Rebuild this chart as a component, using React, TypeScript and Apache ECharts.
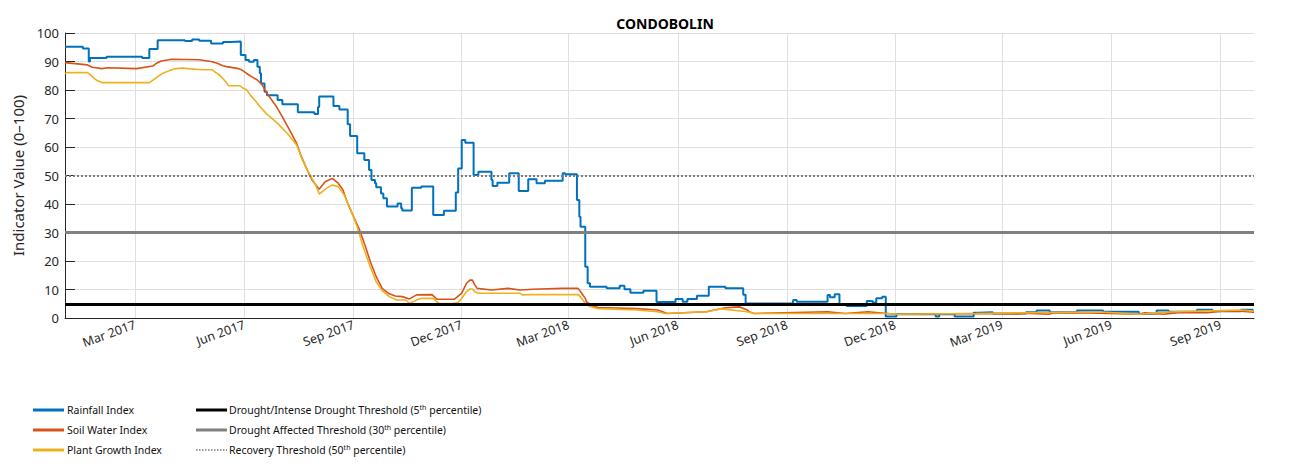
import { useEffect, useRef } from 'react';
import * as echarts from 'echarts';

// ---- Chart text ----
const TITLE = 'CONDOBOLIN';
const Y_AXIS_NAME = 'Indicator Value (0–100)';

// ---- Axis ranges and ticks ----
const X_MIN = '2017-01-01';
const X_MAX = '2019-09-29';
const xTickDates = [
  '2017-03-01', '2017-06-01', '2017-09-01', '2017-12-01',
  '2018-03-01', '2018-06-01', '2018-09-01', '2018-12-01',
  '2019-03-01', '2019-06-01', '2019-09-01',
];
const monthNames = ['Jan', 'Feb', 'Mar', 'Apr', 'May', 'Jun', 'Jul', 'Aug', 'Sep', 'Oct', 'Nov', 'Dec'];
const Y_MIN = 0;
const Y_MAX = 100;
const Y_STEP = 10;

// ---- Threshold levels (percentiles) ----
const INTENSE_DROUGHT_LEVEL = 5;
const DROUGHT_AFFECTED_LEVEL = 30;
const RECOVERY_LEVEL = 50;

// ---- Series: [date the value starts, index value] ----
const rainfallIndex: [string, number][] = [
  ['2017-01-01', 95.2], ['2017-01-16', 94.6], ['2017-01-21', 90.0], ['2017-01-22', 91.2],
  ['2017-02-05', 91.7], ['2017-03-07', 91.2], ['2017-03-13', 94.4], ['2017-03-20', 97.5],
  ['2017-04-12', 97.2], ['2017-04-18', 97.7], ['2017-04-24', 97.3], ['2017-05-04', 96.3],
  ['2017-05-14', 96.8], ['2017-05-20', 97.0], ['2017-05-29', 92.3], ['2017-06-02', 90.5],
  ['2017-06-05', 89.9], ['2017-06-09', 90.5], ['2017-06-12', 88.2], ['2017-06-14', 85.9],
  ['2017-06-15', 82.3], ['2017-06-18', 79.4], ['2017-06-20', 78.2], ['2017-06-29', 76.5],
  ['2017-07-03', 75.0], ['2017-07-16', 72.2], ['2017-07-30', 71.6], ['2017-08-02', 74.0],
  ['2017-08-03', 77.7], ['2017-08-15', 74.4], ['2017-08-20', 73.2], ['2017-08-27', 68.0],
  ['2017-08-29', 63.9], ['2017-09-04', 57.8], ['2017-09-10', 55.4], ['2017-09-14', 51.9],
  ['2017-09-16', 48.4], ['2017-09-19', 47.3], ['2017-09-20', 45.9], ['2017-09-24', 43.7],
  ['2017-09-26', 42.0], ['2017-09-29', 39.1], ['2017-10-08', 40.2], ['2017-10-11', 38.5],
  ['2017-10-12', 37.7], ['2017-10-20', 45.7], ['2017-10-28', 46.1], ['2017-11-07', 36.1],
  ['2017-11-16', 37.6], ['2017-11-26', 44.0], ['2017-11-28', 52.5], ['2017-12-01', 62.5],
  ['2017-12-04', 61.5], ['2017-12-11', 50.2], ['2017-12-15', 51.3], ['2017-12-26', 48.4],
  ['2017-12-27', 46.3], ['2017-12-31', 47.5], ['2018-01-10', 50.8], ['2018-01-18', 44.6],
  ['2018-01-26', 48.7], ['2018-02-02', 47.3], ['2018-02-09', 48.2], ['2018-02-24', 50.8],
  ['2018-02-26', 50.4], ['2018-03-08', 41.4], ['2018-03-10', 35.5], ['2018-03-11', 32.0],
  ['2018-03-15', 18.0], ['2018-03-17', 12.2], ['2018-03-19', 11.0], ['2018-04-02', 10.4],
  ['2018-04-13', 11.3], ['2018-04-17', 10.1], ['2018-04-22', 8.9], ['2018-05-03', 9.6],
  ['2018-05-14', 5.6], ['2018-05-30', 6.7], ['2018-06-05', 5.7], ['2018-06-09', 6.7],
  ['2018-06-17', 7.8], ['2018-06-27', 11.0], ['2018-07-11', 10.4], ['2018-07-26', 8.2],
  ['2018-07-28', 5.1], ['2018-09-06', 6.3], ['2018-09-09', 5.7], ['2018-10-05', 8.1],
  ['2018-10-07', 7.3], ['2018-10-11', 8.3], ['2018-10-15', 4.6], ['2018-10-21', 4.2],
  ['2018-11-07', 6.0], ['2018-11-12', 5.4], ['2018-11-15', 6.9], ['2018-11-20', 7.5],
  ['2018-11-23', 0.5], ['2018-12-02', 1.3], ['2019-01-04', 0.5], ['2019-01-07', 1.3],
  ['2019-01-20', 0.5], ['2019-02-05', 1.8], ['2019-02-09', 2.0], ['2019-02-21', 1.6],
  ['2019-03-21', 2.0], ['2019-03-30', 2.6], ['2019-04-10', 2.0], ['2019-05-03', 2.6],
  ['2019-05-25', 2.2], ['2019-06-24', 1.4], ['2019-06-29', 1.6], ['2019-07-09', 2.6],
  ['2019-07-19', 2.2], ['2019-08-12', 2.9], ['2019-08-25', 2.4], ['2019-09-18', 2.9],
  ['2019-09-28', 2.2], ['2019-09-29', 2.2],
];

const soilWaterIndex: [string, number][] = [
  ['2017-01-01', 89.6], ['2017-01-20', 88.8], ['2017-01-24', 88.0], ['2017-02-01', 87.5],
  ['2017-02-06', 87.8], ['2017-03-02', 87.5], ['2017-03-16', 88.4], ['2017-03-19', 89.4],
  ['2017-03-23', 90.2], ['2017-04-01', 90.8], ['2017-04-24', 90.6], ['2017-05-05', 89.9],
  ['2017-05-09', 89.4], ['2017-05-14', 88.5], ['2017-05-17', 88.2], ['2017-05-26', 87.6],
  ['2017-05-30', 87.0], ['2017-06-03', 85.8], ['2017-06-07', 84.7], ['2017-06-12', 83.5],
  ['2017-06-16', 81.8], ['2017-06-19', 79.5], ['2017-06-24', 76.5], ['2017-06-28', 74.2],
  ['2017-07-03', 70.6], ['2017-07-09', 66.0], ['2017-07-15', 61.3], ['2017-07-19', 56.6],
  ['2017-07-24', 51.9], ['2017-07-28', 48.4], ['2017-08-03', 45.2], ['2017-08-08', 47.8],
  ['2017-08-14', 49.0], ['2017-08-19', 47.3], ['2017-08-23', 44.9], ['2017-08-27', 40.2],
  ['2017-09-01', 35.5], ['2017-09-06', 30.9], ['2017-09-11', 25.0], ['2017-09-15', 19.8],
  ['2017-09-20', 14.5], ['2017-09-25', 10.4], ['2017-09-30', 8.7], ['2017-10-06', 7.7],
  ['2017-10-12', 7.5], ['2017-10-18', 6.7], ['2017-10-24', 8.1], ['2017-11-06', 8.2],
  ['2017-11-10', 6.6], ['2017-11-25', 6.6], ['2017-12-01', 8.7], ['2017-12-05', 12.2],
  ['2017-12-08', 13.3], ['2017-12-10', 13.3], ['2017-12-12', 11.6], ['2017-12-14', 10.4],
  ['2017-12-26', 9.8], ['2018-01-09', 10.4], ['2018-01-19', 9.8], ['2018-01-30', 10.1],
  ['2018-02-24', 10.4], ['2018-03-09', 10.4], ['2018-03-12', 8.7], ['2018-03-15', 6.9],
  ['2018-03-16', 5.7], ['2018-03-21', 4.2], ['2018-03-26', 3.7], ['2018-04-27', 3.3],
  ['2018-05-15', 2.8], ['2018-05-19', 2.2], ['2018-05-23', 1.6], ['2018-06-25', 2.2],
  ['2018-07-02', 2.8], ['2018-07-11', 3.6], ['2018-07-23', 3.9], ['2018-07-29', 2.9],
  ['2018-07-31', 2.2], ['2018-08-04', 1.6], ['2018-10-05', 2.2], ['2018-10-20', 1.6],
  ['2018-11-08', 2.2], ['2018-11-24', 1.6], ['2018-12-02', 1.3], ['2019-02-05', 1.6],
  ['2019-03-14', 1.4], ['2019-03-20', 1.7], ['2019-04-09', 1.3], ['2019-04-13', 1.8],
  ['2019-05-06', 1.9], ['2019-06-23', 1.3], ['2019-06-29', 1.8], ['2019-07-15', 1.3],
  ['2019-07-27', 1.9], ['2019-08-21', 1.9], ['2019-09-01', 2.4], ['2019-09-18', 2.4],
  ['2019-09-29', 2.0],
];

const plantGrowthIndex: [string, number][] = [
  ['2017-01-01', 85.8], ['2017-01-03', 86.1], ['2017-01-20', 86.1], ['2017-01-22', 85.5],
  ['2017-01-24', 84.7], ['2017-01-28', 83.3], ['2017-02-01', 82.6], ['2017-03-13', 82.6],
  ['2017-03-17', 83.7], ['2017-03-20', 84.7], ['2017-03-24', 85.8], ['2017-03-30', 86.8],
  ['2017-04-03', 87.4], ['2017-04-10', 87.7], ['2017-04-16', 87.4], ['2017-04-27', 87.1],
  ['2017-05-05', 87.1], ['2017-05-07', 86.4], ['2017-05-11', 85.3], ['2017-05-15', 83.5],
  ['2017-05-19', 81.5], ['2017-05-28', 81.5], ['2017-05-30', 80.9], ['2017-06-03', 80.0],
  ['2017-06-06', 78.2], ['2017-06-11', 75.9], ['2017-06-14', 74.2], ['2017-06-18', 72.4],
  ['2017-06-20', 71.5], ['2017-06-29', 68.3], ['2017-07-07', 64.8], ['2017-07-15', 60.7],
  ['2017-07-20', 55.4], ['2017-07-24', 51.9], ['2017-07-31', 46.7], ['2017-08-03', 43.5],
  ['2017-08-09', 45.5], ['2017-08-14', 46.7], ['2017-08-19', 46.1], ['2017-08-24', 43.2],
  ['2017-08-29', 38.5], ['2017-09-04', 32.0], ['2017-09-09', 25.0], ['2017-09-15', 18.0],
  ['2017-09-20', 12.7], ['2017-09-25', 9.6], ['2017-10-01', 7.5], ['2017-10-07', 6.3],
  ['2017-10-15', 6.3], ['2017-10-18', 5.1], ['2017-10-24', 6.3], ['2017-10-28', 6.9],
  ['2017-11-07', 6.9], ['2017-11-10', 5.7], ['2017-11-12', 5.1], ['2017-11-23', 5.1],
  ['2017-11-28', 5.4], ['2017-12-01', 6.9], ['2017-12-05', 9.2], ['2017-12-08', 10.2],
  ['2017-12-10', 10.2], ['2017-12-12', 9.2], ['2017-12-15', 8.7], ['2018-01-19', 8.7],
  ['2018-01-21', 8.1], ['2018-01-27', 8.2], ['2018-03-09', 8.2], ['2018-03-12', 6.9],
  ['2018-03-15', 5.1], ['2018-03-19', 4.0], ['2018-03-25', 3.3], ['2018-04-27', 2.8],
  ['2018-05-15', 2.2], ['2018-05-21', 1.6], ['2018-06-25', 2.2], ['2018-07-02', 2.8],
  ['2018-07-08', 3.2], ['2018-07-29', 2.2], ['2018-08-05', 1.6], ['2018-11-24', 1.6],
  ['2018-12-02', 1.3], ['2019-02-07', 1.6], ['2019-04-01', 1.9], ['2019-05-23', 2.1],
  ['2019-06-25', 1.3], ['2019-07-12', 1.9], ['2019-07-24', 2.2], ['2019-09-01', 2.6],
  ['2019-09-18', 2.8], ['2019-09-29', 2.4],
];

// ---- Colours ----
const RAIN_COLOR = '#0072BD';
const SOIL_COLOR = '#D95319';
const PLANT_COLOR = '#EDB120';
const INTENSE_COLOR = '#000000';
const AFFECTED_COLOR = '#808080';
const RECOVERY_COLOR = '#7a7a7a';
const GRID_COLOR = '#dfdfdf';
const AXIS_COLOR = '#262626';
const FONT = '"Noto Sans", "DejaVu Sans", sans-serif';

// dates are handled as UTC day timestamps on a numeric axis
const toTime = (d: string) => Date.parse(`${d}T00:00:00Z`);
const toPoints = (rows: [string, number][]) => rows.map(([d, v]) => [toTime(d), v]);

type LegendEntry = { label: string; color: string; width: number; dash?: number[] };

const legendLeft: LegendEntry[] = [
  { label: 'Rainfall Index', color: RAIN_COLOR, width: 3 },
  { label: 'Soil Water Index', color: SOIL_COLOR, width: 3 },
  { label: 'Plant Growth Index', color: PLANT_COLOR, width: 3 },
];
const legendRight: LegendEntry[] = [
  { label: '{n|Drought/Intense Drought Threshold (5}{s|th}{n| percentile)}', color: INTENSE_COLOR, width: 3 },
  { label: '{n|Drought Affected Threshold (30}{s|th}{n| percentile)}', color: AFFECTED_COLOR, width: 3 },
  { label: '{n|Recovery Threshold (50}{s|th}{n| percentile)}', color: RECOVERY_COLOR, width: 1.5, dash: [1.5, 1.5] },
];

function legendGraphics() {
  const rows = [410, 430, 450];
  const items: any[] = [];
  const column = (entries: LegendEntry[], lineX: number, textX: number) => {
    entries.forEach((e, i) => {
      const y = rows[i];
      items.push({
        type: 'line',
        silent: true,
        shape: { x1: lineX, y1: y, x2: lineX + 31, y2: y },
        style: { stroke: e.color, lineWidth: e.width, lineDash: e.dash },
      });
      items.push({
        type: 'text',
        silent: true,
        x: textX,
        y,
        style: {
          text: e.label,
          fill: '#111',
          font: `10.5px ${FONT}`,
          verticalAlign: 'middle',
          align: 'left',
          rich: {
            n: { fontSize: 10.5, fontFamily: FONT, fill: '#111' },
            s: { fontSize: 7, fontFamily: FONT, fill: '#111', padding: [0, 0, 6, 0] },
          },
        },
      });
    });
  };
  column(legendLeft, 33, 67);
  column(legendRight, 196, 229);
  return items;
}

function formatMonth(value: number) {
  const d = new Date(value);
  return `${monthNames[d.getUTCMonth()]} ${d.getUTCFullYear()}`;
}

export default function App() {
  const ref = useRef<HTMLDivElement>(null);

  useEffect(() => {
    if (!ref.current) return;
    const chart = echarts.init(ref.current, undefined, { renderer: 'svg' });
    const tickTimes = xTickDates.map(toTime);

    chart.setOption({
      animation: false,
      backgroundColor: '#ffffff',
      title: {
        text: TITLE,
        left: 660,
        textAlign: 'center',
        top: 11,
        textStyle: { fontFamily: FONT, fontSize: 14, fontWeight: 'bold', color: '#000' },
      },
      grid: { left: 65, right: 39, top: 33, bottom: 156, containLabel: false },
      xAxis: {
        type: 'value',
        min: toTime(X_MIN),
        max: toTime(X_MAX),
        axisLine: { show: true, onZero: false, lineStyle: { color: AXIS_COLOR, width: 1 } },
        axisTick: { show: true, inside: true, length: 10, lineStyle: { color: AXIS_COLOR }, customValues: tickTimes },
        axisLabel: {
          customValues: tickTimes,
          rotate: 20,
          margin: 6,
          color: AXIS_COLOR,
          fontFamily: FONT,
          fontSize: 12.5,
          formatter: (v: number) => formatMonth(v),
        },
        splitLine: { show: false },
        minorSplitLine: { show: false },
      },
      yAxis: {
        type: 'value',
        min: Y_MIN,
        max: Y_MAX,
        interval: Y_STEP,
        name: Y_AXIS_NAME,
        nameLocation: 'middle',
        nameGap: 28,
        nameTextStyle: { fontFamily: FONT, fontSize: 15, color: AXIS_COLOR },
        axisLine: { show: true, lineStyle: { color: AXIS_COLOR, width: 1 } },
        axisTick: { show: true, inside: true, length: 10, lineStyle: { color: AXIS_COLOR } },
        axisLabel: { color: AXIS_COLOR, fontFamily: FONT, fontSize: 13, margin: 6 },
        splitLine: { show: true, lineStyle: { color: GRID_COLOR, width: 1 } },
      },
      series: [
        {
          // vertical grid lines at the month ticks
          name: 'month-grid',
          type: 'line',
          data: [],
          silent: true,
          z: 1,
          markLine: {
            silent: true,
            symbol: 'none',
            z: 1,
            label: { show: false },
            lineStyle: { color: GRID_COLOR, width: 1, type: 'solid' },
            data: tickTimes.map((t) => ({ xAxis: t })),
          },
        },
        {
          name: 'Rainfall Index',
          type: 'line',
          step: 'end',
          data: toPoints(rainfallIndex),
          showSymbol: false,
          z: 3,
          lineStyle: { color: RAIN_COLOR, width: 2 },
          itemStyle: { color: RAIN_COLOR },
        },
        {
          name: 'Soil Water Index',
          type: 'line',
          data: toPoints(soilWaterIndex),
          showSymbol: false,
          z: 4,
          lineStyle: { color: SOIL_COLOR, width: 1.6 },
          itemStyle: { color: SOIL_COLOR },
        },
        {
          name: 'Plant Growth Index',
          type: 'line',
          data: toPoints(plantGrowthIndex),
          showSymbol: false,
          z: 5,
          lineStyle: { color: PLANT_COLOR, width: 1.6 },
          itemStyle: { color: PLANT_COLOR },
        },
        {
          // drought threshold lines
          name: 'thresholds',
          type: 'line',
          data: [],
          silent: true,
          z: 6,
          markLine: {
            silent: true,
            symbol: 'none',
            z: 6,
            label: { show: false },
            data: [
              { yAxis: RECOVERY_LEVEL, lineStyle: { color: RECOVERY_COLOR, width: 2, type: [2, 2] } },
              { yAxis: DROUGHT_AFFECTED_LEVEL, lineStyle: { color: AFFECTED_COLOR, width: 3, type: 'solid' } },
              { yAxis: INTENSE_DROUGHT_LEVEL, lineStyle: { color: INTENSE_COLOR, width: 3, type: 'solid' } },
            ],
          },
        },
      ],
      graphic: legendGraphics(),
    });

    return () => chart.dispose();
  }, []);

  return (
    <div
      ref={ref}
      style={{ position: 'absolute', left: 0, top: 0, width: 1293, height: 474, background: '#fff' }}
    />
  );
}
